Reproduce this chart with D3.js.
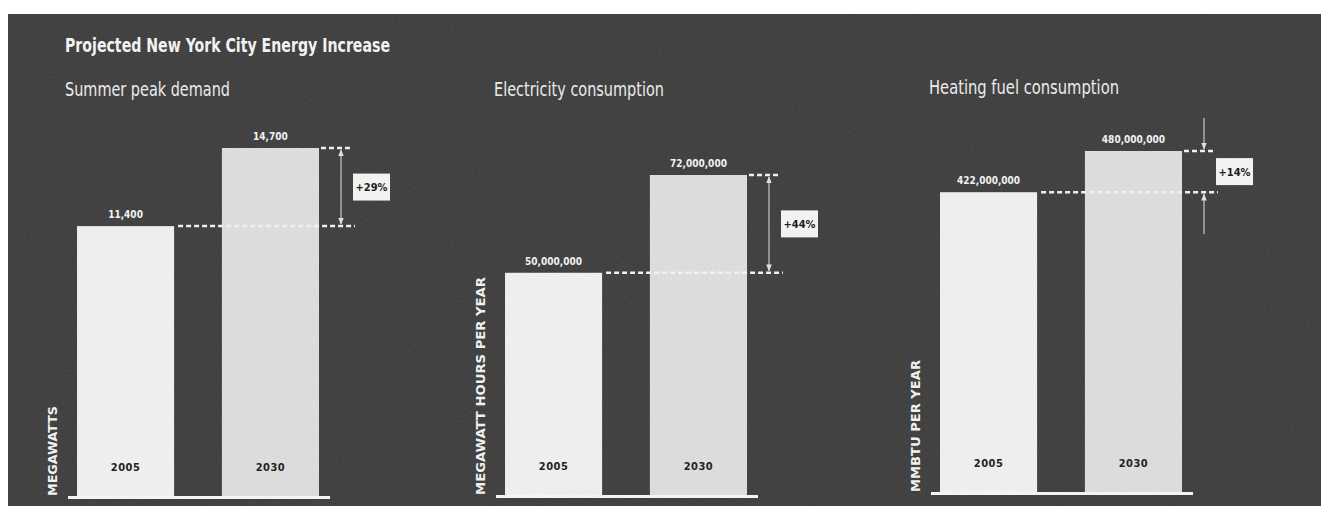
<!DOCTYPE html>
<html>
<head>
<meta charset="utf-8">
<script src="https://cdn.jsdelivr.net/npm/d3@7"></script>
<style>
  html, body { margin: 0; padding: 0; background: #fff; }
  svg { display: block; }
  text { font-family: "Liberation Sans Narrow", "DejaVu Sans Condensed", sans-serif; }
</style>
</head>
<body>
<div id="chart"></div>
<script>
var chartTitle = "Projected New York City Energy Increase";
var panelTitles = ["Summer peak demand", "Electricity consumption", "Heating fuel consumption"];
var unitLabels = ["MEGAWATTS", "MEGAWATT HOURS PER YEAR", "MMBTU PER YEAR"];
var years = ["2005", "2030"];
var values2005 = [11400, 50000000, 422000000];
var values2030 = [14700, 72000000, 480000000];
var changeLabels = ["+29%", "+44%", "+14%"];

var W = 1321, H = 506;

// per panel layout: left of first bar, baseline, top of the tallest bar
var layout = [
  {x0: 77,  base: 496, top: 148, titleX: 65,  titleY: 96, titleW: 165, unitW: 90,  arrows: "both"},
  {x0: 505, base: 495, top: 175, titleX: 494, titleY: 96, titleW: 170, unitW: 218, arrows: "both"},
  {x0: 940, base: 492, top: 151, titleX: 929, titleY: 94, titleW: 190, unitW: 132, arrows: "in"}
];

var svg = d3.select("#chart").append("svg")
    .attr("width", W)
    .attr("height", H);

var defs = svg.append("defs");

function grain(id, alpha){
  var f = defs.append("filter").attr("id", id)
      .attr("x", 0).attr("y", 0).attr("width", "100%").attr("height", "100%");
  f.append("feTurbulence").attr("type", "fractalNoise")
      .attr("baseFrequency", 0.9).attr("numOctaves", 1).attr("seed", 3).attr("result", "n");
  f.append("feColorMatrix").attr("in", "n").attr("type", "matrix")
      .attr("values", "0 0 0 0 0  0 0 0 0 0  0 0 0 0 0  0 0 0 " + alpha + " -0.1")
      .attr("result", "a");
  f.append("feComposite").attr("in", "a").attr("in2", "SourceGraphic").attr("operator", "in").attr("result", "b");
  var m = f.append("feMerge");
  m.append("feMergeNode").attr("in", "SourceGraphic");
  m.append("feMergeNode").attr("in", "b");
}
grain("grain", 0.5);
grain("grainLight", 0.22);

defs.append("marker").attr("id", "head")
    .attr("viewBox", "0 0 10 10").attr("refX", 9).attr("refY", 5)
    .attr("markerWidth", 7).attr("markerHeight", 7).attr("orient", "auto-start-reverse")
  .append("path").attr("d", "M0,1 L10,5 L0,9 Z").attr("fill", "#e0e0e0");

// background
svg.append("rect")
    .attr("x", 8).attr("y", 14)
    .attr("width", W - 8).attr("height", H - 14)
    .attr("fill", "#4a4a4a")
    .attr("filter", "url(#grain)");

svg.append("text")
    .attr("x", 65).attr("y", 52)
    .attr("fill", "#f2f2f2")
    .attr("font-size", 19)
    .attr("font-weight", "bold")
    .attr("textLength", 325).attr("lengthAdjust", "spacingAndGlyphs")
    .text(chartTitle);

layout.forEach(function(p, i){
  var data = [values2005[i], values2030[i]];
  var g = svg.append("g");

  var x = d3.scaleBand()
      .domain(years)
      .range([p.x0, p.x0 + 242])
      .paddingInner(0.33);

  var y = d3.scaleLinear()
      .domain([0, d3.max(data)])
      .range([p.base, p.top]);

  g.append("text")
      .attr("x", p.titleX).attr("y", p.titleY)
      .attr("fill", "#ececec")
      .attr("font-size", 19)
      .attr("textLength", p.titleW).attr("lengthAdjust", "spacingAndGlyphs")
      .text(panelTitles[i]);

  // unit label
  g.append("text")
      .attr("transform", "translate(" + (p.x0 - 20) + "," + p.base + ") rotate(-90)")
      .attr("fill", "#f0f0f0")
      .attr("font-size", 12)
      .attr("font-weight", "bold")
      .attr("textLength", p.unitW).attr("lengthAdjust", "spacingAndGlyphs")
      .text(unitLabels[i]);

  var bars = g.selectAll(".bar")
      .data(data)
      .enter().append("g").attr("class", "bar");

  bars.append("rect")
      .attr("x", function(d, j){ return x(years[j]); })
      .attr("y", function(d){ return y(d); })
      .attr("width", x.bandwidth())
      .attr("height", function(d){ return p.base - y(d); })
      .attr("fill", function(d, j){ return j === 0 ? "#f0f0f0" : "#dedede"; })
      .attr("filter", "url(#grainLight)");

  bars.append("text")
      .attr("x", function(d, j){ return x(years[j]) + x.bandwidth() / 2; })
      .attr("y", function(d){ return y(d) - 8; })
      .attr("text-anchor", "middle")
      .attr("fill", "#f2f2f2")
      .attr("font-size", 10)
      .attr("font-weight", "bold")
      .text(d3.format(","));

  bars.append("text")
      .attr("x", function(d, j){ return x(years[j]) + x.bandwidth() / 2; })
      .attr("y", p.base - 25)
      .attr("text-anchor", "middle")
      .attr("fill", "#222")
      .attr("font-size", 11)
      .attr("font-weight", "bold")
      .attr("letter-spacing", 0.5)
      .text(function(d, j){ return years[j]; });

  // baseline
  g.append("rect")
      .attr("x", p.x0 - 9).attr("y", p.base)
      .attr("width", 242 + 20).attr("height", 3)
      .attr("fill", "#f4f4f4");

  var right1 = x(years[0]) + x.bandwidth(),
      right2 = x(years[1]) + x.bandwidth(),
      yLow = y(values2005[i]),
      yHigh = y(values2030[i]),
      ax = right2 + 22;

  g.append("line")
      .attr("x1", right1 + 4).attr("x2", right2 + 36)
      .attr("y1", yLow).attr("y2", yLow)
      .attr("stroke", "#f0f0f0").attr("stroke-width", 2.5)
      .attr("stroke-dasharray", "5,3");
  g.append("line")
      .attr("x1", right2 + 2).attr("x2", right2 + 32)
      .attr("y1", yHigh).attr("y2", yHigh)
      .attr("stroke", "#f0f0f0").attr("stroke-width", 2.5)
      .attr("stroke-dasharray", "5,3");

  if (p.arrows === "both") {
    g.append("line")
        .attr("x1", ax).attr("x2", ax)
        .attr("y1", yHigh + 2).attr("y2", yLow - 2)
        .attr("stroke", "#e0e0e0").attr("stroke-width", 1)
        .attr("marker-start", "url(#head)")
        .attr("marker-end", "url(#head)");
  } else {
    g.append("line")
        .attr("x1", ax).attr("x2", ax)
        .attr("y1", yHigh - 33).attr("y2", yHigh - 2)
        .attr("stroke", "#e0e0e0").attr("stroke-width", 1)
        .attr("marker-end", "url(#head)");
    g.append("line")
        .attr("x1", ax).attr("x2", ax)
        .attr("y1", yLow + 42).attr("y2", yLow + 2)
        .attr("stroke", "#e0e0e0").attr("stroke-width", 1)
        .attr("marker-end", "url(#head)");
  }

  var mid = (yLow + yHigh) / 2;
  g.append("rect")
      .attr("x", right2 + 34).attr("y", mid - 13.5)
      .attr("width", 37).attr("height", 27)
      .attr("fill", "#f2f2f2");
  g.append("text")
      .attr("x", right2 + 34 + 18.5).attr("y", mid + 4)
      .attr("text-anchor", "middle")
      .attr("fill", "#1e1e1e")
      .attr("font-size", 11)
      .attr("font-weight", "bold")
      .text(changeLabels[i]);
});
</script>
</body>
</html>
